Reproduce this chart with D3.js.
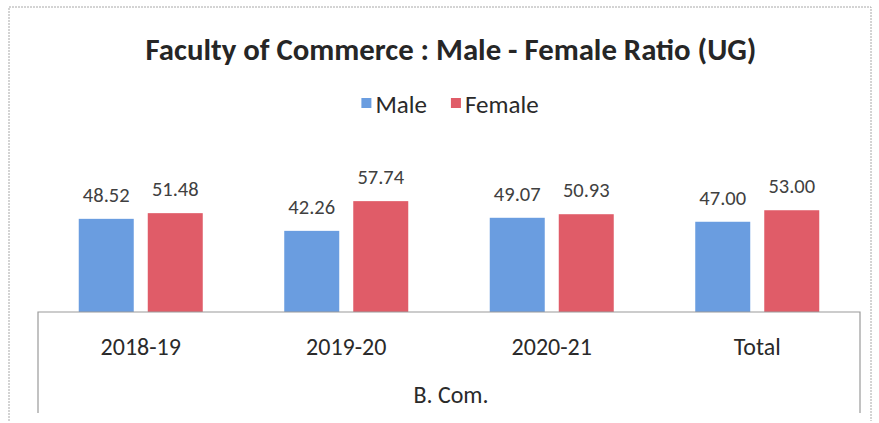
<!DOCTYPE html>
<html><head><meta charset="utf-8">
<script src="https://cdn.jsdelivr.net/npm/d3@7"></script>
<style>body{margin:0;background:#fff}svg{display:block}</style>
</head><body>
<svg id="c" width="879" height="423"></svg>
<script>
const categories = ["2018-19", "2019-20", "2020-21", "Total"];
const groupLabel = "B. Com.";
const series = ["Male", "Female"];
const maleValues = [48.52, 42.26, 49.07, 47.00];
const femaleValues = [51.48, 57.74, 50.93, 53.00];
const valueLabels = [["48.52","42.26","49.07","47.00"],["51.48","57.74","50.93","53.00"]];
const colors = {Male: "#6a9de0", Female: "#e05c68"};
const title = "Faculty of Commerce : Male - Female Ratio (UG)";

const svg = d3.select("#c");
const font = "Carlito, Lato, 'Open Sans', sans-serif";

// outer dotted frame
svg.append("path").attr("d", "M9,421 L9,7 L871,7 L871,421")
  .attr("fill","none").attr("stroke","#a8a8a8").attr("stroke-width",1).attr("stroke-dasharray","2,1");

const left = 38, right = 860, base = 312;
const x0 = d3.scaleBand().domain(categories).range([left, right]);
const off = (x0.bandwidth() - 124) / 2;
const x1 = d3.scaleBand().domain(series).range([off, off + 124]).paddingInner(0.203);
const y = d3.scaleLinear().domain([0, 70]).range([base, base - 70 * 1.92]);

const data = categories.map((c, i) => ({c, vals: [
  {s: "Male", v: maleValues[i], l: valueLabels[0][i]},
  {s: "Female", v: femaleValues[i], l: valueLabels[1][i]}]}));

const g = svg.selectAll("g.grp").data(data).join("g").attr("class","grp")
  .attr("transform", d => `translate(${x0(d.c)},0)`);
g.selectAll("rect").data(d => d.vals).join("rect")
  .attr("x", d => x1(d.s)).attr("width", x1.bandwidth())
  .attr("y", d => y(d.v)).attr("height", d => y(0) - y(d.v))
  .attr("fill", d => colors[d.s]);
g.selectAll("text").data(d => d.vals).join("text")
  .attr("x", d => x1(d.s) + x1.bandwidth() / 2).attr("y", d => y(d.v) - 17)
  .attr("text-anchor","middle").attr("font-family", font).attr("font-size", 20.5)
  .attr("fill","#404040").text(d => d.l);

// axis box
svg.append("path").attr("d", `M${left},413 L${left},${base} L${right},${base} L${right},413`)
  .attr("fill","none").attr("stroke","#9a9a9a").attr("stroke-width",1.2);
svg.selectAll("text.cat").data(categories).join("text").attr("class","cat")
  .attr("x", d => x0(d) + x0.bandwidth() / 2).attr("y", 355)
  .attr("text-anchor","middle").attr("font-family", font).attr("font-size", 24)
  .attr("fill","#2a2a2a").text(d => d);
svg.append("text").attr("x", (left + right) / 2 + 2).attr("y", 403)
  .attr("text-anchor","middle").attr("font-family", font).attr("font-size", 24)
  .attr("fill","#2a2a2a").text(groupLabel);

// title
const t = svg.append("text").attr("x", 451).attr("y", 60).attr("text-anchor","middle")
  .attr("font-family", font).attr("font-weight","bold").attr("font-size", 24)
  .attr("fill","#262626").text(title);
const tw = t.node().getComputedTextLength();
t.attr("font-size", 24 * 611 / tw);

// legend
const lg = svg.append("g");
let lx = 0;
const gap = 24;
series.forEach((s) => {
  lg.append("rect").attr("x", lx).attr("y", 98).attr("width", 10).attr("height", 10).attr("fill", colors[s]);
  const tx = lg.append("text").attr("x", lx + 14).attr("y", 113).attr("font-family", font)
    .attr("font-size", 25).attr("fill","#2a2a2a").text(s);
  lx += 14 + tx.node().getComputedTextLength() + gap;
});
const lw = lx - gap;
lg.attr("transform", `translate(${450 - lw / 2},0)`);
</script>
</body></html>
